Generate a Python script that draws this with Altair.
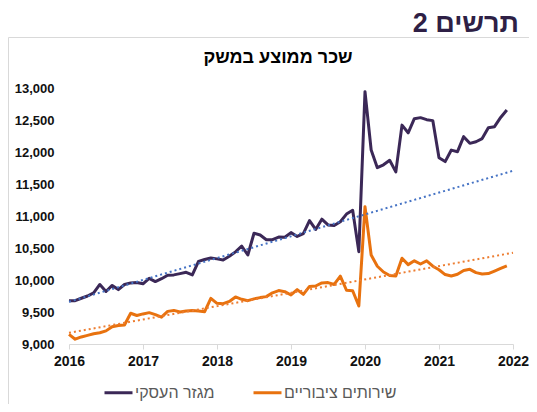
import altair as alt
import pandas as pd

# ---- data (monthly, Jan 2016 - Dec 2021) ----
series_names = ["מגזר העסקי", "שירותים ציבוריים"]
business = [9677, 9677, 9715, 9750, 9800, 9930, 9820, 9915, 9850, 9930, 9955, 9960,
            9940, 10025, 9975, 10020, 10075, 10080, 10100, 10120, 10080, 10290, 10320, 10344,
            10330, 10313, 10370, 10440, 10531, 10391, 10730, 10703, 10630, 10630, 10670, 10667,
            10740, 10680, 10725, 10927, 10790, 10950, 10860, 10850, 10910, 11030, 11090, 10443,
            12943, 12031, 11755, 11800, 11870, 11690, 12420, 12300, 12520, 12537, 12505, 12490,
            11910, 11850, 12030, 12005, 12240, 12135, 12160, 12210, 12380, 12396, 12540, 12656]
public = [9150, 9075, 9110, 9135, 9160, 9175, 9205, 9270, 9290, 9297, 9480, 9445,
          9470, 9490, 9460, 9420, 9510, 9525, 9500, 9515, 9525, 9515, 9505, 9714,
          9636, 9630, 9665, 9735, 9698, 9677, 9705, 9725, 9740, 9800, 9835, 9818,
          9766, 9850, 9775, 9900, 9906, 9955, 9960, 9930, 10060, 9840, 9833, 9594,
          11146, 10390, 10215, 10125, 10070, 10063, 10340, 10240, 10300, 10250, 10300, 10215,
          10160, 10085, 10063, 10090, 10150, 10167, 10115, 10095, 10100, 10140, 10180, 10219]
year_ticks = [2016, 2017, 2018, 2019, 2020, 2021, 2022]
y_ticks = [9000, 9500, 10000, 10500, 11000, 11500, 12000, 12500, 13000]
trend_fit_end = 2020          # trend lines fitted on 2016-2019, extended to 2022
fig_label = "תרשים 2"
chart_title = "שכר ממוצע במשק"

colors = ["#3B2857", "#E8720F"]
trend_colors = ["#4472C4", "#ED7D31"]

t = [2016 + i / 12 for i in range(len(business))]
df = pd.concat([
    pd.DataFrame({"t": t, "value": business, "series": series_names[0]}),
    pd.DataFrame({"t": t, "value": public, "series": series_names[1]}),
])

FONT = "Liberation Sans"

x_enc = alt.X("t:Q", scale=alt.Scale(domain=[2016, 2022], nice=False, zero=False),
              axis=alt.Axis(values=year_ticks, format="d", title=None, grid=False,
                            domainColor="#D9D9D9", tickColor="#D9D9D9", tickSize=5,
                            labelFont=FONT, labelFontSize=14, labelFontWeight="bold",
                            labelColor="#111111", labelPadding=5, labelFlush=False,
                            labelOverlap=False))
y_enc = alt.Y("value:Q", scale=alt.Scale(domain=[9000, 13000], nice=False, zero=False),
              axis=alt.Axis(values=y_ticks, format=",.0f", title=None, grid=False,
                            domain=False, ticks=False, labelFont=FONT, labelFontSize=13,
                            labelFontWeight="bold", labelColor="#111111", labelPadding=15,
                            labelOverlap=False, labelBound=False))

base = alt.Chart(df)

frame = alt.Chart(pd.DataFrame({"a": [0]})).mark_rect(
    fill=None, stroke="#D9D9D9", strokeWidth=1
).encode(x=alt.value(-60.5), x2=alt.value(500), y=alt.value(-50.5), y2=alt.value(400))

lines = base.mark_line(strokeWidth=3, strokeJoin="round").encode(
    x=x_enc, y=y_enc,
    color=alt.Color("series:N",
                    scale=alt.Scale(domain=series_names, range=colors),
                    sort=series_names,
                    legend=alt.Legend(title=None, orient="none", direction="horizontal",
                                      legendX=34, legendY=289, symbolType="stroke",
                                      symbolSize=784, symbolStrokeWidth=3,
                                      labelFont=FONT, labelFontSize=16,
                                      labelColor="#595959", labelOffset=1,
                                      columnPadding=32, labelLimit=300)),
)

trends = []
for name, tc in zip(series_names, trend_colors):
    trends.append(
        base.transform_filter((alt.datum.series == name) & (alt.datum.t < trend_fit_end))
        .transform_regression("t", "value", extent=[2016, 2022])
        .mark_line(strokeWidth=2, strokeDash=[2, 3], color=tc)
        .encode(x=x_enc, y=y_enc)
    )

label = alt.Chart(pd.DataFrame({"txt": [fig_label]})).mark_text(
    font=FONT, fontSize=27, fontWeight="bold", color="#2E1F45", align="right",
    baseline="alphabetic"
).encode(text="txt:N", x=alt.value(450), y=alt.value(-56))

title = alt.Chart(pd.DataFrame({"txt": [chart_title]})).mark_text(
    font=FONT, fontSize=18, fontWeight="bold", color="#000000", align="center",
    baseline="alphabetic"
).encode(text="txt:N", x=alt.value(209), y=alt.value(-25))

chart = alt.layer(frame, lines, *trends, label, title).properties(
    width=444, height=256,
    autosize=alt.AutoSizeParams(type="none"),
    padding={"left": 61, "top": 80, "right": 16, "bottom": 60},
).configure_view(stroke=None)

chart.save("out.html", embed_options={"renderer": "svg", "actions": False})
